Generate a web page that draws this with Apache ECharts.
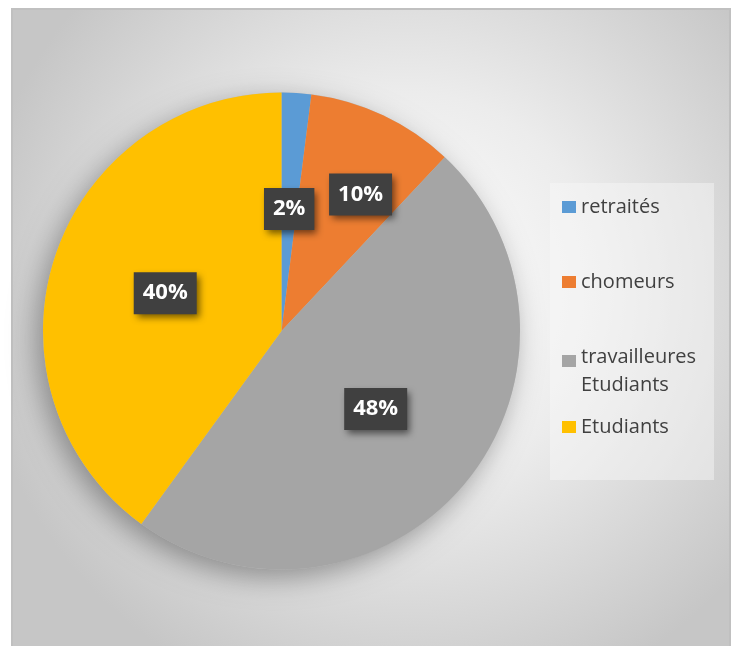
<!DOCTYPE html>
<html>
<head>
<meta charset="utf-8">
<script src="https://cdn.jsdelivr.net/npm/echarts@6/dist/echarts.min.js"></script>
<style>
  html, body { margin: 0; padding: 0; background: #ffffff; }
  #chart { width: 736px; height: 646px; }
</style>
</head>
<body>
<div id="chart"></div>
<script>
// Répartition des répondants par statut (en %)
const categories = ['retraités', 'chomeurs', 'travailleures Etudiants', 'Etudiants'];
const values = [2, 10, 48, 40];
const colors = ['#5B9BD5', '#ED7D31', '#A5A5A5', '#FFC000'];

// Libellés des légendes (le 3e tient sur deux lignes)
const legendLabels = ['retraités', 'chomeurs', 'travailleures\nEtudiants', 'Etudiants'];

// Décalage de l'étiquette des chômeurs pour la sortir de la pointe de la part
const labelShift = { 1: { dx: 27, dy: -26 } };

const chart = echarts.init(document.getElementById('chart'), null, { renderer: 'canvas' });

const legendTops = [195, 270, 343, 415];
const squareIcon = 'path://M0,0h14v12h-14z';
const tallIcon = 'path://M0,4h14v12h-14zM0,0M0,40';

const legends = categories.map((name, i) => {
  const twoLines = legendLabels[i].indexOf('\n') >= 0;
  return {
    show: true,
    orient: 'vertical',
    left: 562,
    top: legendTops[i],
    padding: 0,
    itemWidth: 14,
    itemHeight: twoLines ? 40 : 12,
    selectedMode: false,
    data: [{ name: name, icon: twoLines ? tallIcon : squareIcon }],
    formatter: () => legendLabels[i],
    textStyle: {
      fontFamily: 'Open Sans',
      fontSize: 20,
      lineHeight: twoLines ? 28 : 24,
      color: '#404040'
    }
  };
});

const total = values.reduce((a, b) => a + b, 0);
const pieCenter = [281.5, 331];
const pieRadius = 238.5;

const option = {
  animation: false,
  color: colors,
  graphic: [
    {
      type: 'rect',
      z: -10,
      silent: true,
      shape: { x: 12, y: 9, width: 718, height: 700 },
      style: {
        fill: {
          type: 'radial',
          x: 0.55, y: 0.4, r: 0.62,
          colorStops: [
            { offset: 0, color: '#ffffff' },
            { offset: 0.45, color: '#ececec' },
            { offset: 1, color: '#c6c6c6' }
          ]
        },
        stroke: '#c0c0c0',
        lineWidth: 2
      }
    },
    {
      type: 'rect',
      z: -5,
      silent: true,
      shape: { x: 550, y: 183, width: 164, height: 297 },
      style: { fill: 'rgba(248,248,248,0.45)' }
    }
  ],
  legend: legends,
  series: [
    {
      // ombre portée du disque
      type: 'pie',
      z: 1,
      center: pieCenter,
      radius: pieRadius,
      silent: true,
      emphasis: { disabled: true },
      label: { show: false },
      labelLine: { show: false },
      itemStyle: {
        color: '#bdbdbd',
        shadowColor: 'rgba(0,0,0,0.35)',
        shadowBlur: 28,
        shadowOffsetX: -6,
        shadowOffsetY: 8
      },
      data: [{ name: '', value: total }]
    },
    {
      type: 'pie',
      z: 2,
      center: pieCenter,
      radius: pieRadius,
      startAngle: 90,
      clockwise: true,
      silent: true,
      emphasis: { disabled: true },
      itemStyle: { borderWidth: 0 },
      data: categories.map((name, i) => ({ name: name, value: values[i] })),
      label: {
        show: true,
        position: 'inside',
        formatter: (p) => p.value + '%',
        fontFamily: 'Open Sans',
        fontWeight: 'bold',
        fontSize: 22,
        lineHeight: 22,
        color: '#ffffff',
        backgroundColor: '#404040',
        padding: [10, 9],
        shadowColor: 'rgba(0,0,0,0.55)',
        shadowBlur: 7,
        shadowOffsetX: 3,
        shadowOffsetY: 4
      },
      labelLine: { show: false },
      labelLayout: (params) => labelShift[params.dataIndex] || {}
    }
  ]
};

chart.setOption(option);
</script>
</body>
</html>
